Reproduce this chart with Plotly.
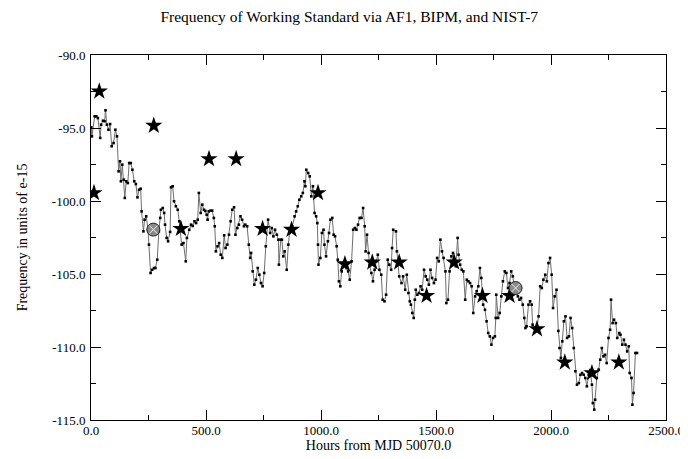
import plotly.graph_objects as go

hours = [1, 4, 16, 23, 30, 40, 44, 52, 59, 63, 69, 76, 83, 90, 98, 106, 113, 120, 126, 130,
         136, 142, 147, 153, 160, 166, 173, 180, 188, 195, 202, 209, 216, 220, 228, 233, 240, 248, 252, 259,
         266, 274, 280, 288, 295, 301, 304, 312, 318, 322, 329, 335, 344, 348, 355, 361, 369, 377, 384, 394,
         402, 412, 417, 427, 435, 442, 450, 457, 464, 469, 477, 484, 491, 497, 503, 507, 512, 520, 527, 534,
         538, 543, 550, 557, 564, 571, 579, 585, 593, 600, 607, 614, 622, 628, 636, 643, 650, 657, 665, 671,
         679, 686, 692, 696, 703, 710, 717, 725, 732, 739, 746, 753, 760, 770, 779, 786, 793, 800, 808, 815,
         817, 825, 830, 836, 842, 851, 858, 863, 875, 885, 892, 899, 906, 914, 921, 928, 932, 936, 944, 951,
         958, 965, 972, 979, 984, 987, 989, 997, 1004, 1011, 1015, 1022, 1030, 1035, 1041, 1049, 1055, 1061, 1068, 1073,
         1078, 1084, 1090, 1098, 1111, 1118, 1125, 1133, 1140, 1147, 1154, 1161, 1168, 1176, 1183, 1190, 1194, 1200, 1207, 1211,
         1219, 1226, 1233, 1240, 1247, 1254, 1262, 1268, 1276, 1283, 1290, 1297, 1305, 1309, 1314, 1326, 1330, 1340, 1350, 1357,
         1366, 1373, 1380, 1386, 1391, 1397, 1403, 1408, 1412, 1419, 1426, 1433, 1440, 1448, 1455, 1462, 1469, 1476, 1483, 1491,
         1498, 1505, 1512, 1519, 1526, 1533, 1541, 1545, 1552, 1559, 1567, 1574, 1581, 1586, 1594, 1598, 1605, 1612, 1619, 1627,
         1634, 1641, 1648, 1655, 1662, 1670, 1677, 1684, 1691, 1697, 1705, 1713, 1720, 1727, 1734, 1741, 1748, 1756, 1760, 1762,
         1770, 1777, 1784, 1791, 1799, 1806, 1813, 1820, 1827, 1834, 1841, 1848, 1856, 1863, 1870, 1877, 1884, 1889, 1894, 1902,
         1909, 1916, 1920, 1929, 1937, 1946, 1953, 1960, 1967, 1975, 1982, 1989, 1996, 2003, 2009, 2016, 2024, 2032, 2037, 2043,
         2049, 2056, 2063, 2070, 2078, 2085, 2092, 2099, 2106, 2113, 2121, 2128, 2135, 2142, 2149, 2156, 2164, 2171, 2178, 2182,
         2188, 2192, 2199, 2207, 2214, 2221, 2228, 2235, 2242, 2250, 2257, 2261, 2268, 2274, 2282, 2288, 2297, 2302, 2310, 2317,
         2324, 2331, 2338, 2342, 2350, 2354, 2359, 2367, 2374]

freq = [-94.95, -95.57, -94.20, -94.20, -94.32, -95.68, -94.77, -94.50, -94.54, -93.79, -94.77, -95.12, -94.73, -96.25, -96.03, -95.12, -95.57, -97.97, -97.28, -98.65,
        -97.51, -98.54, -99.79, -98.65, -98.77, -97.40, -97.40, -97.86, -98.65, -98.84, -99.75, -99.23, -99.16, -100.71, -102.08, -101.28, -101.05, -101.97, -102.99, -104.93,
        -104.71, -104.59, -104.59, -104.02, -102.08, -101.16, -100.60, -100.48, -100.82, -101.62, -102.53, -102.76, -102.12, -99.06, -98.99, -100.02, -100.36, -100.60, -101.39, -102.99,
        -102.88, -104.13, -102.53, -101.97, -101.62, -101.71, -101.39, -101.51, -101.28, -99.45, -100.82, -100.25, -100.60, -100.68, -100.94, -101.28, -100.71, -100.66, -100.66, -101.16,
        -101.73, -103.45, -103.10, -102.88, -103.68, -103.90, -102.35, -103.22, -102.99, -102.31, -101.39, -100.60, -100.43, -102.31, -101.85, -101.62, -101.05, -101.28, -101.73, -101.62,
        -101.73, -102.99, -103.90, -103.56, -104.82, -105.73, -105.39, -104.59, -105.05, -105.62, -105.84, -104.93, -103.10, -101.28, -102.19, -101.85, -102.42, -101.97, -102.31, -102.65,
        -104.36, -102.65, -102.65, -103.79, -103.45, -104.71, -102.99, -102.19, -101.73, -101.05, -100.71, -100.36, -99.91, -99.68, -99.45, -98.65, -98.99, -97.86, -98.08, -98.31,
        -99.68, -98.99, -100.82, -101.05, -101.51, -102.99, -104.36, -103.90, -102.19, -101.97, -102.99, -103.79, -102.76, -102.19, -101.28, -101.16, -102.31, -102.42, -103.10, -104.02,
        -105.50, -105.84, -104.82, -104.25, -104.59, -104.82, -105.39, -104.13, -101.97, -101.85, -101.97, -101.62, -101.16, -101.16, -100.48, -101.73, -103.45, -102.31, -103.56, -104.36,
        -104.93, -105.50, -104.71, -104.13, -103.68, -104.71, -105.05, -106.76, -106.87, -106.42, -104.02, -104.36, -104.71, -103.22, -101.97, -102.08, -103.45, -105.16, -105.62, -105.16,
        -106.08, -105.05, -106.30, -106.87, -107.10, -107.67, -108.01, -106.76, -106.08, -106.42, -106.30, -105.84, -106.08, -104.71, -105.16, -105.39, -105.73, -104.71, -105.27, -105.62,
        -105.39, -103.90, -104.13, -102.65, -103.45, -103.90, -104.82, -106.99, -106.76, -104.82, -103.79, -103.56, -104.13, -104.47, -102.53, -103.68, -104.36, -104.71, -104.82, -106.76,
        -105.39, -105.50, -105.62, -105.84, -107.67, -106.53, -106.18, -105.84, -104.59, -105.27, -107.10, -107.45, -108.24, -109.04, -109.27, -109.84, -109.38, -109.27, -108.01, -106.42,
        -108.01, -107.67, -106.53, -105.50, -104.82, -104.93, -105.96, -105.62, -104.82, -105.16, -106.08, -106.23, -106.53, -106.76, -106.64, -107.10, -108.01, -108.70, -108.58, -107.10,
        -106.87, -107.10, -108.47, -108.70, -108.84, -107.90, -105.84, -105.96, -105.39, -105.05, -105.50, -104.25, -103.90, -105.05, -107.33, -106.53, -106.08, -108.90, -110.07, -110.75,
        -109.61, -108.24, -107.90, -109.38, -109.27, -108.01, -108.70, -110.07, -111.66, -112.58, -112.47, -111.90, -111.78, -111.90, -112.12, -112.69, -111.90, -111.58, -112.58, -113.84,
        -114.29, -113.61, -112.12, -111.55, -110.87, -110.07, -110.64, -110.53, -111.10, -109.38, -108.82, -106.76, -108.36, -108.13, -108.36, -109.38, -109.04, -109.16, -109.84, -109.50,
        -109.84, -110.30, -109.95, -111.78, -112.12, -113.95, -113.15, -110.41, -110.41]

star_hours = [13, 36, 273, 391, 513, 631, 746, 872, 987, 1104, 1223, 1340, 1459, 1579, 1702, 1820, 1939, 2060, 2178, 2295]
star_freq = [-99.45, -92.49, -94.84, -101.9, -97.12, -97.12, -101.9, -101.96, -99.45, -104.32, -104.2, -104.2,
             -106.49, -104.2, -106.49, -106.49, -108.77, -111.05, -111.78, -111.05]

hatch_hours = [271, 1846]
hatch_freq = [-101.96, -105.96]

x_tickvals = [0, 500, 1000, 1500, 2000, 2500]
x_ticktext = ["0.0", "500.0", "1000.0", "1500.0", "2000.0", "2500.0"]
y_tickvals = [-115, -110, -105, -100, -95, -90]
y_ticktext = ["-115.0", "-110.0", "-105.0", "-100.0", "-95.0", "-90.0"]

serif = "Liberation Serif, Times New Roman, serif"

fig = go.Figure()
fig.add_trace(go.Scatter(x=hours, y=freq, mode="lines+markers",
                         line=dict(color="#6e6e6e", width=1),
                         marker=dict(symbol="square", size=2.6, color="black"),
                         showlegend=False))
fig.add_trace(go.Scatter(x=star_hours, y=star_freq, mode="markers",
                         marker=dict(symbol="star", size=13, color="black",
                                     line=dict(width=0)),
                         showlegend=False))
fig.add_trace(go.Scatter(x=hatch_hours, y=hatch_freq, mode="markers",
                         marker=dict(symbol="circle", size=13, color="#8a8a8a",
                                     line=dict(color="#222222", width=1)),
                         showlegend=False))
fig.add_trace(go.Scatter(x=hatch_hours, y=hatch_freq, mode="markers",
                         marker=dict(symbol="x-thin", size=8, color="white",
                                     line=dict(color="#eeeeee", width=1)),
                         showlegend=False))

axis_common = dict(showgrid=False, zeroline=False, showline=True, linecolor="black",
                   linewidth=1, mirror="ticks", ticks="inside", ticklen=10,
                   tickcolor="black", tickfont=dict(family=serif, size=13, color="black"))

fig.update_xaxes(range=[0, 2500], tickmode="array", tickvals=x_tickvals, ticktext=x_ticktext,
                 ticklabelstandoff=-2,
                 title=dict(text="Hours from MJD 50070.0", font=dict(family=serif, size=14, color="black"),
                            standoff=1),
                 minor=dict(dtick=250, tick0=0, ticks="inside", ticklen=5, tickcolor="black"),
                 **axis_common)
fig.update_yaxes(range=[-115, -90], tickmode="array", tickvals=y_tickvals, ticktext=y_ticktext,
                 ticklabelstandoff=2,
                 title=dict(text="Frequency in units of e-15", font=dict(family=serif, size=14, color="black"),
                            standoff=20),
                 minor=dict(dtick=2.5, tick0=-115, ticks="inside", ticklen=5, tickcolor="black"),
                 **axis_common)

fig.update_layout(
    width=688, height=459,
    margin=dict(l=83, r=23, t=47, b=47),
    paper_bgcolor="white", plot_bgcolor="white",
    title=dict(text="Frequency of Working Standard via AF1, BIPM, and NIST-7",
               x=0.496, xanchor="center", y=0.993, yanchor="top",
               font=dict(family=serif, size=15.5, color="black")),
)

fig.write_html("out.html")
